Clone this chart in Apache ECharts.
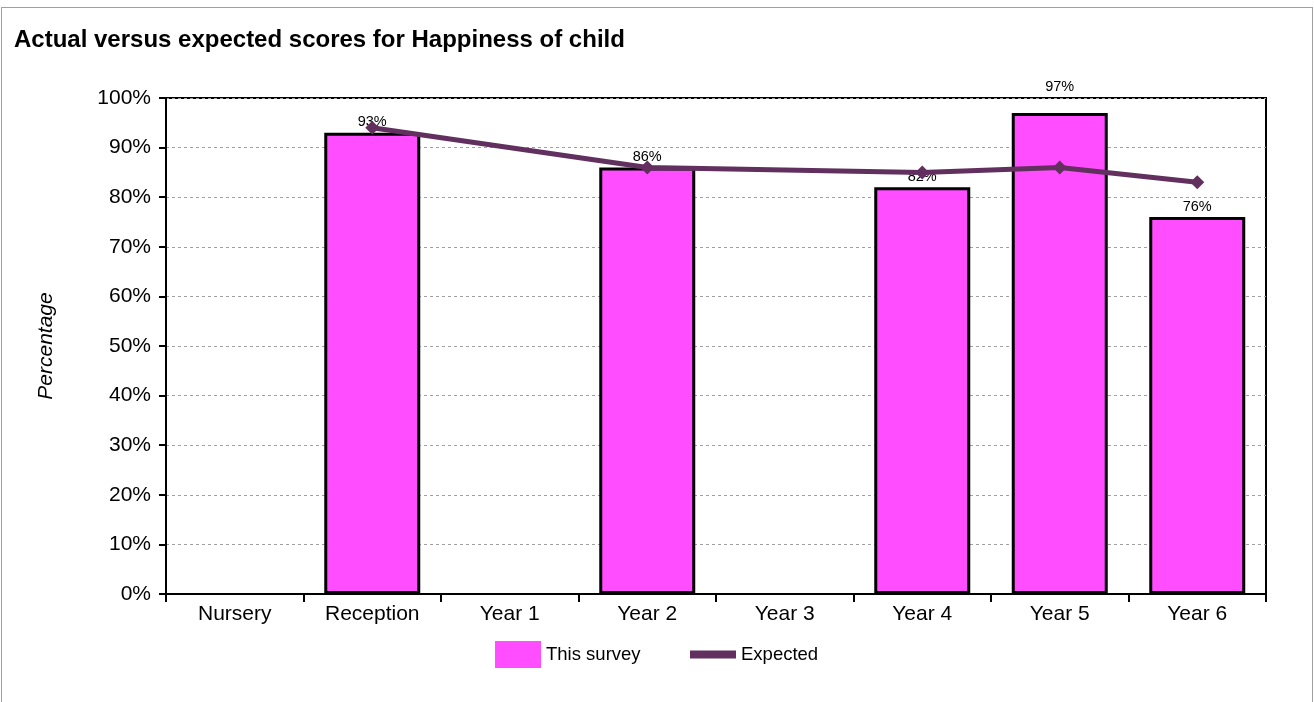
<!DOCTYPE html>
<html>
<head>
<meta charset="utf-8">
<script src="https://cdn.jsdelivr.net/npm/echarts@6/dist/echarts.min.js"></script>
<style>
  html, body { margin: 0; padding: 0; background: #fff; }
  #frame { position: absolute; left: 1px; top: 7px; width: 1310px; height: 700px; border: 1px solid #a0a0a0; }
  #chart { position: absolute; left: 0; top: 0; width: 1314px; height: 702px; }
</style>
</head>
<body>
<div id="frame"></div>
<div id="chart"></div>
<script>
const categories = ['Nursery', 'Reception', 'Year 1', 'Year 2', 'Year 3', 'Year 4', 'Year 5', 'Year 6']
const thisSurvey = [null, 93, null, 86, null, 82, 97, 76]
const expected = [null, 94, null, 86, null, 85, 86, 83]
const yTicks = [0, 10, 20, 30, 40, 50, 60, 70, 80, 90, 100]

const font = 'Liberation Sans, Arial, sans-serif'
const chart = echarts.init(document.getElementById('chart'))

const option = {
  animation: false,
  textStyle: { fontFamily: font },
  title: {
    text: 'Actual versus expected scores for Happiness of child',
    left: 9,
    top: 23,
    textStyle: { fontSize: 24, fontWeight: 'bold', color: '#000', fontFamily: font }
  },
  grid: {
    left: 166,
    right: 48,
    top: 98,
    bottom: 108,
    show: true,
    borderColor: '#000',
    borderWidth: 2,
    backgroundColor: 'transparent'
  },
  legend: [
    {
      data: ['This survey'],
      left: 490,
      top: 636,
      itemWidth: 46,
      itemHeight: 27,
      itemGap: 8,
      icon: 'rect',
      itemStyle: { borderWidth: 0 },
      textStyle: { fontSize: 18.5, color: '#000' }
    },
    {
      data: ['Expected'],
      left: 685,
      top: 640,
      itemWidth: 46,
      itemHeight: 8,
      icon: 'rect',
      itemStyle: { borderWidth: 0 },
      textStyle: { fontSize: 18.5, color: '#000' }
    }
  ],
  xAxis: {
    type: 'category',
    data: categories,
    axisLine: { show: true, lineStyle: { color: '#000', width: 2 } },
    axisTick: { show: true, length: 8, inside: false, lineStyle: { color: '#000', width: 2 } },
    axisLabel: { color: '#000', fontSize: 21, margin: 10 }
  },
  yAxis: {
    type: 'value',
    min: yTicks[0],
    max: yTicks[yTicks.length - 1],
    interval: 10,
    name: 'Percentage',
    nameLocation: 'middle',
    nameGap: 109,
    nameTextStyle: { fontSize: 21, fontStyle: 'italic', color: '#000' },
    axisLine: { show: true, lineStyle: { color: '#000', width: 2 } },
    axisTick: { show: true, length: 7, lineStyle: { color: '#000', width: 2 } },
    axisLabel: { color: '#000', fontSize: 21, margin: 15, formatter: v => v + '%' },
    splitLine: { show: true, lineStyle: { color: '#a0a0a0', type: [3, 3], width: 1 } }
  },
  series: [
    {
      name: 'This survey',
      type: 'bar',
      barWidth: 96,
      data: thisSurvey.map((v, i) => (v == null ? null : {
        value: v,
        label: i === 6 ? { distance: 18 } : {}
      })),
      itemStyle: { color: '#ff4dff', borderColor: '#000', borderWidth: 3 },
      label: {
        show: true,
        position: 'top',
        distance: 3,
        fontSize: 14.5,
        color: '#000',
        formatter: p => p.value + '%'
      },
      z: 2
    },
    {
      name: 'Expected',
      type: 'line',
      data: expected,
      connectNulls: true,
      symbol: 'diamond',
      symbolSize: 14,
      color: '#62305f',
      lineStyle: { color: '#62305f', width: 5 },
      itemStyle: { color: '#62305f' },
      z: 3
    }
  ]
}

chart.setOption(option)
</script>
</body>
</html>
